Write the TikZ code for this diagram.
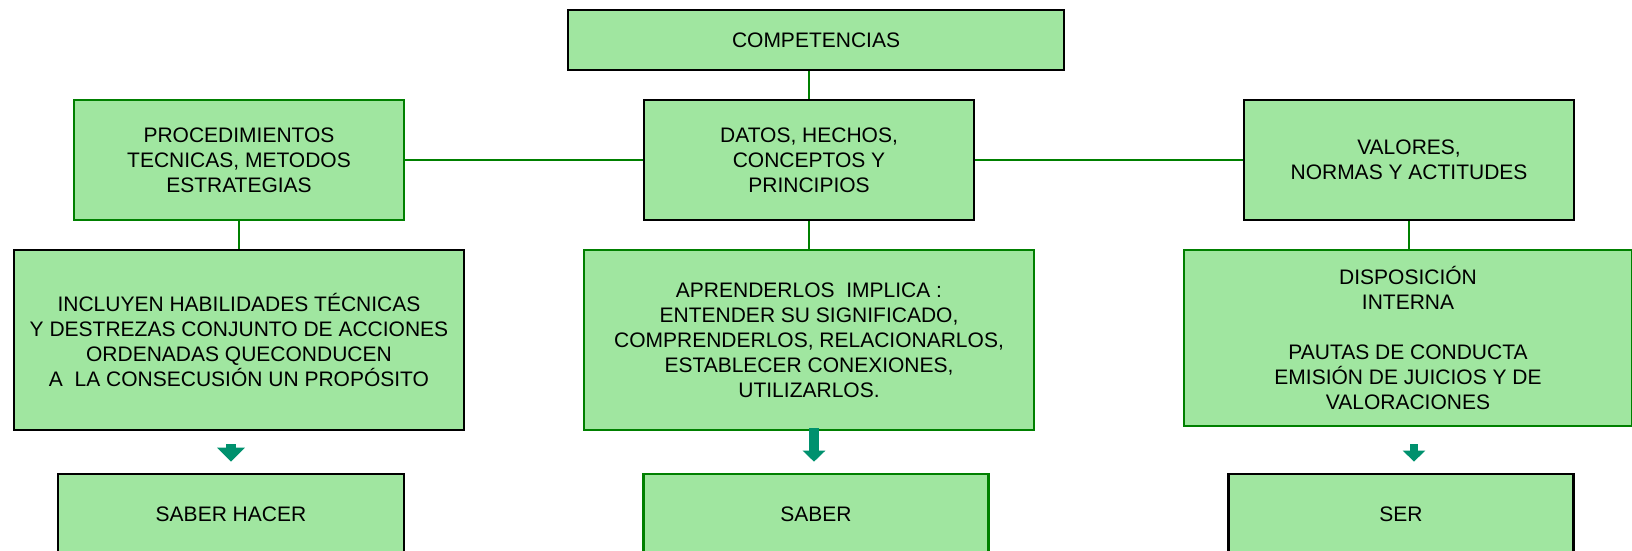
\documentclass[tikz,border=0pt]{standalone}
\usepackage{fontspec}
\setmainfont{Liberation Sans}
\usepackage{xcolor}
\usepackage{tikz}
\usetikzlibrary{positioning,arrows.meta}
\definecolor{boxfill}{RGB}{160,230,160}
\definecolor{linegreen}{RGB}{0,128,0}
\definecolor{arrowteal}{RGB}{0,145,110}

\begin{document}
\begin{tikzpicture}[x=0.5pt, y=-0.5pt,
  box/.style={rectangle, fill=boxfill, align=center, inner sep=0pt, font=\fontsize{10.5pt}{12.5pt}\selectfont},
  blackbox/.style={box, draw=black, line width=1.4pt},
  greenbox/.style={box, draw=linegreen, line width=1.3pt},
  link/.style={draw=linegreen, line width=1pt},
  downarrow/.style={draw=arrowteal, line width=5pt}]
  \useasboundingbox (0,0) rectangle (1632,551);
  \node[blackbox, minimum width=248pt, minimum height=30pt] (Competencias) at (816,40) {COMPETENCIAS};  % Top
  \node[greenbox, minimum width=165pt, minimum height=60pt] (Procedimientos) at (239,160) {PROCEDIMIENTOS\\TECNICAS, METODOS\\ESTRATEGIAS};  % Second row
  \node[blackbox, minimum width=165pt, minimum height=60pt] (Datos) at (809,160) {DATOS, HECHOS,\\CONCEPTOS Y\\PRINCIPIOS};
  \node[blackbox, minimum width=165pt, minimum height=60pt] (Valores) at (1409,160) {VALORES,\\NORMAS Y ACTITUDES};
  \node[blackbox, minimum width=225pt, minimum height=90pt] (Hacer-info) at (239,340) {INCLUYEN HABILIDADES TÉCNICAS\\Y DESTREZAS CONJUNTO DE ACCIONES\\ORDENADAS QUECONDUCEN\\A\ \ LA CONSECUSIÓN UN PROPÓSITO};  % Third row
  \node[greenbox, minimum width=225pt, minimum height=90pt] (Saber-info) at (809,340) {APRENDERLOS\ \ IMPLICA :\\ENTENDER SU SIGNIFICADO,\\COMPRENDERLOS, RELACIONARLOS,\\ESTABLECER CONEXIONES,\\UTILIZARLOS.};
  \node[greenbox, minimum width=224pt, minimum height=88pt] (Ser-info) at (1408,338) {DISPOSICIÓN\\INTERNA\\[12.5pt]PAUTAS DE CONDUCTA\\EMISIÓN DE JUICIOS Y DE\\VALORACIONES};
  \node[blackbox, minimum width=173pt, minimum height=40pt] (Saber-Hacer) at (231,514) {SABER HACER};  % Bottom row
  \node[greenbox, minimum width=172.5pt, minimum height=40pt] (Saber) at (816,514) {SABER};
  \node[blackbox, minimum width=172.5pt, minimum height=40pt] (Ser) at (1401,514) {SER};
  \draw[link] (Competencias.south -| Datos.north) -- (Datos.north);  % Connect boxes
  \draw[link] (Procedimientos) -- (Datos);
  \draw[link] (Datos) -- (Valores);
  \draw[link] (Procedimientos) -- (Hacer-info);
  \draw[link] (Datos) -- (Saber-info);
  \draw[link] (Valores.south) -- (Valores.south |- Ser-info.north);
  \draw[downarrow, -{Triangle[width=13.5pt, length=7pt]}, shorten <=6.5pt, shorten >=5.5pt] (Hacer-info.south -| Saber-Hacer.north) -- (Saber-Hacer.north);  % Arrows down
  \draw[downarrow, -{Triangle[width=11pt, length=5.5pt]}, shorten <=-1.5pt, shorten >=5.5pt] ([xshift=-1pt]Saber.north |- Saber-info.south) -- ([xshift=-1pt]Saber.north);
  \draw[downarrow, line width=4pt, -{Triangle[width=11pt, length=5.5pt]}, shorten <=8.5pt, shorten >=5.5pt] ([xshift=3pt]Ser-info.south) -- ([xshift=3pt]Ser-info.south |- Ser.north);
\end{tikzpicture}
\end{document}
